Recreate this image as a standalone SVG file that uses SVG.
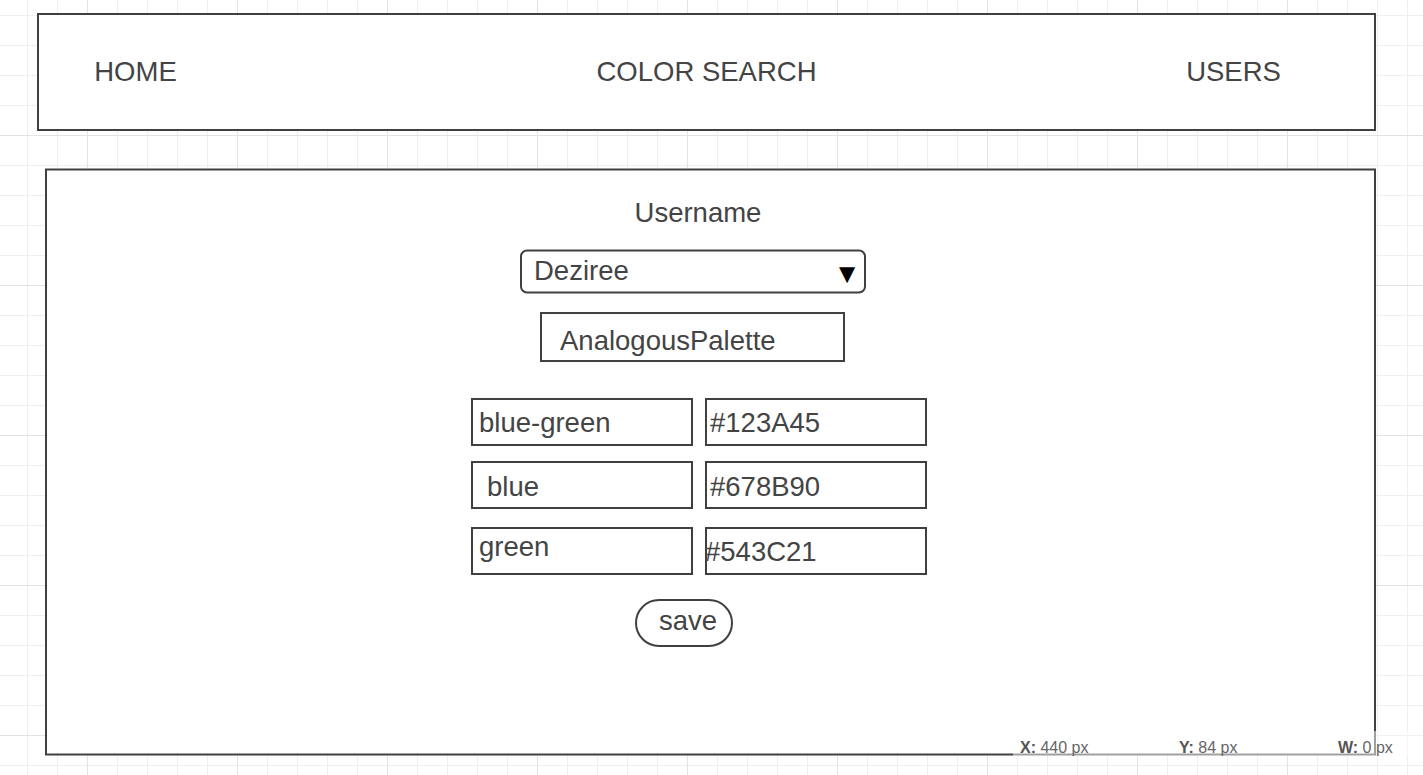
<svg xmlns="http://www.w3.org/2000/svg" width="1423" height="775" viewBox="0 0 1423 775">
<style>
  .box { fill: #ffffff; stroke: #404040; stroke-width: 2; }
  .t { font-family: "Liberation Sans", Arial, sans-serif; font-size: 27.5px; fill: #444444; }
  .mid { text-anchor: middle; }
  .info { font-family: "Liberation Sans", Arial, sans-serif; font-size: 16px; fill: #666666; }
  .info .k { font-weight: bold; fill: #555555; }
</style>
<defs>
  <pattern id="minor" patternUnits="userSpaceOnUse" x="27" y="15" width="30" height="30">
    <path d="M0.5 0V30M0 0.5H30" fill="none" stroke="#efefef" stroke-width="1"/>
  </pattern>
  <pattern id="major" patternUnits="userSpaceOnUse" x="87" y="135" width="150" height="150">
    <path d="M0.5 0V150M0 0.5H150" fill="none" stroke="#e3e3e3" stroke-width="1"/>
  </pattern>
</defs>
<rect width="1423" height="775" fill="#ffffff"/>
<rect width="1423" height="775" fill="url(#minor)"/>
<rect width="1423" height="775" fill="url(#major)"/>

<g id="navbar">
  <rect class="box" x="38" y="14" width="1337" height="116"/>
  <text class="t mid" x="135.5" y="81">HOME</text>
  <text class="t mid" x="706.5" y="81">COLOR SEARCH</text>
  <text class="t mid" x="1233.5" y="81">USERS</text>
</g>

<g id="panel">
  <rect class="box" x="46" y="169.5" width="1329" height="585"/>
</g>

<g id="username-label">
  <text class="t mid" x="698" y="222">Username</text>
</g>

<g id="username-select">
  <rect class="box" x="521" y="250.5" width="344" height="42" rx="6"/>
  <text class="t" x="534" y="280">Deziree</text>
  <text class="t mid" x="847" y="283" style="fill:#000000">▼</text>
</g>

<g id="palette-name">
  <rect class="box" x="541" y="313" width="303" height="48"/>
  <text class="t" x="560" y="350">AnalogousPalette</text>
</g>

<g id="color-name-1">
  <rect class="box" x="472" y="399" width="220" height="46"/>
  <text class="t" x="479" y="432">blue-green</text>
</g>
<g id="color-hex-1">
  <rect class="box" x="706" y="399" width="220" height="46"/>
  <text class="t" x="710" y="432">#123A45</text>
</g>
<g id="color-name-2">
  <rect class="box" x="472" y="462" width="220" height="46"/>
  <text class="t" x="487" y="495.5">blue</text>
</g>
<g id="color-hex-2">
  <rect class="box" x="706" y="462" width="220" height="46"/>
  <text class="t" x="710" y="495.5">#678B90</text>
</g>
<g id="color-name-3">
  <rect class="box" x="472" y="528" width="220" height="46"/>
  <text class="t" x="479" y="556">green</text>
</g>
<g id="color-hex-3">
  <rect class="box" x="706" y="528" width="220" height="46"/>
  <text class="t" x="705" y="561">#543C21</text>
</g>

<g id="save-button">
  <rect class="box" x="636" y="600" width="96" height="46" rx="23"/>
  <text class="t" x="659" y="629.5">save</text>
</g>

<g id="connectors"></g>

<g id="status-bar">
  <rect x="1013" y="731" width="410" height="25" fill="#ffffff" fill-opacity="0.5"/>
  <text class="info" x="1020" y="753"><tspan class="k">X:</tspan> 440 px</text>
  <text class="info" x="1179" y="753"><tspan class="k">Y:</tspan> 84 px</text>
  <text class="info" x="1338" y="753"><tspan class="k">W:</tspan> 0 px</text>
</g>
</svg>
